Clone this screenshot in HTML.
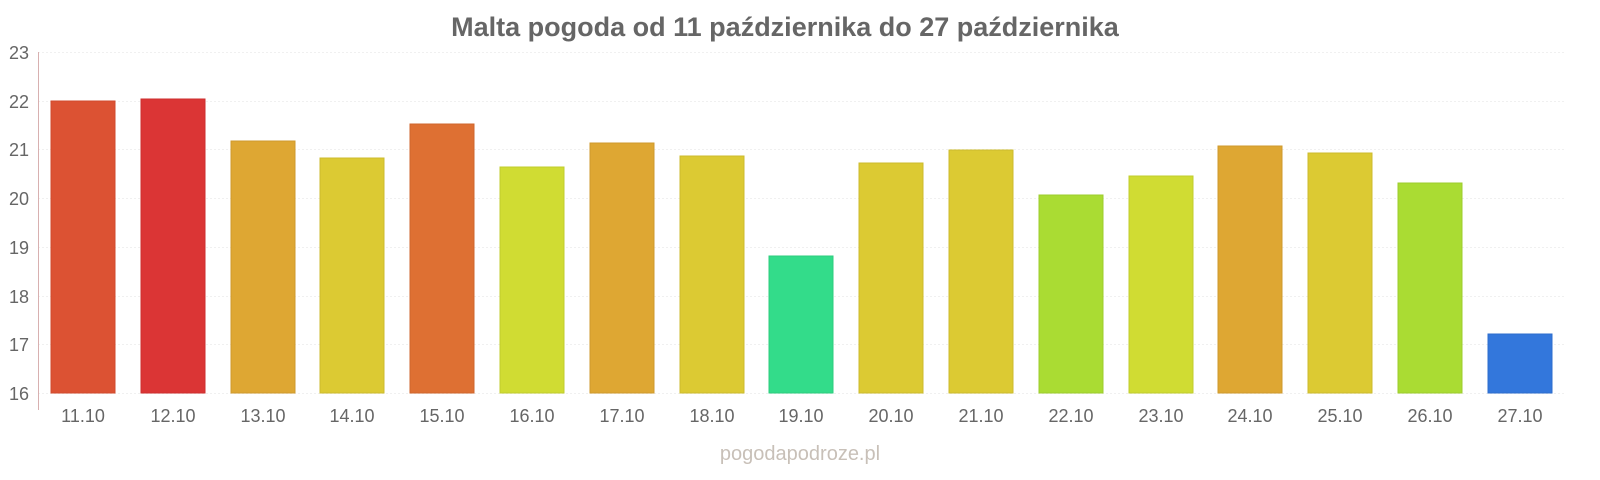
<!DOCTYPE html>
<html><head><meta charset="utf-8"><style>
html,body{margin:0;padding:0;background:#fff;overflow:hidden;width:1600px;height:480px;}
svg{display:block;font-family:"Liberation Sans",sans-serif;}
</style></head><body>
<svg width="1600" height="480" viewBox="0 0 1600 480" xmlns="http://www.w3.org/2000/svg">
<text x="785" y="36" text-anchor="middle" font-size="27" font-weight="bold" fill="#666">Malta pogoda od 11 października do 27 października</text>
<g stroke="#f0f0f0" stroke-width="1" stroke-dasharray="2,2">
<line x1="38" x2="1565" y1="52.5" y2="52.5"/><line x1="38" x2="1565" y1="101.5" y2="101.5"/><line x1="38" x2="1565" y1="149.5" y2="149.5"/><line x1="38" x2="1565" y1="198.5" y2="198.5"/><line x1="38" x2="1565" y1="247.5" y2="247.5"/><line x1="38" x2="1565" y1="296.5" y2="296.5"/><line x1="38" x2="1565" y1="344.5" y2="344.5"/><line x1="38" x2="1565" y1="393.5" y2="393.5"/>
</g>
<g font-size="18" fill="#666" text-anchor="end">
<text x="29" y="59">23</text><text x="29" y="108">22</text><text x="29" y="156">21</text><text x="29" y="205">20</text><text x="29" y="254">19</text><text x="29" y="303">18</text><text x="29" y="351">17</text><text x="29" y="400">16</text>
</g>
<line x1="38.5" x2="38.5" y1="52" y2="410" stroke="#d8b0b0"/>
<g stroke-width="1">
<rect x="51" y="101" width="64" height="292" fill="#dc5233" stroke="#d04a2c"/>
<rect x="141" y="99" width="64" height="294" fill="#db3535" stroke="#cc2e2e"/>
<rect x="231" y="141" width="64" height="252" fill="#dea733" stroke="#cf9a2c"/>
<rect x="320" y="158" width="64" height="235" fill="#dcca33" stroke="#ccbb2c"/>
<rect x="410" y="124" width="64" height="269" fill="#de7033" stroke="#cf662c"/>
<rect x="500" y="167" width="64" height="226" fill="#d0dc33" stroke="#c0cc2c"/>
<rect x="590" y="143" width="64" height="250" fill="#dea733" stroke="#cf9a2c"/>
<rect x="680" y="156" width="64" height="237" fill="#dcca33" stroke="#ccbb2c"/>
<rect x="769" y="256" width="64" height="137" fill="#33dc8a" stroke="#2ccc7e"/>
<rect x="859" y="163" width="64" height="230" fill="#dcca33" stroke="#ccbb2c"/>
<rect x="949" y="150" width="64" height="243" fill="#dcca33" stroke="#ccbb2c"/>
<rect x="1039" y="195" width="64" height="198" fill="#aadc33" stroke="#9ccc2c"/>
<rect x="1129" y="176" width="64" height="217" fill="#d0dc33" stroke="#c0cc2c"/>
<rect x="1218" y="146" width="64" height="247" fill="#dea733" stroke="#cf9a2c"/>
<rect x="1308" y="153" width="64" height="240" fill="#dcca33" stroke="#ccbb2c"/>
<rect x="1398" y="183" width="64" height="210" fill="#aadc33" stroke="#9ccc2c"/>
<rect x="1488" y="334" width="64" height="59" fill="#3377dc" stroke="#2c6ccc"/>
</g>
<g font-size="18" fill="#666" text-anchor="middle">
<text x="83" y="422">11.10</text><text x="173" y="422">12.10</text><text x="263" y="422">13.10</text><text x="352" y="422">14.10</text><text x="442" y="422">15.10</text><text x="532" y="422">16.10</text><text x="622" y="422">17.10</text><text x="712" y="422">18.10</text><text x="801" y="422">19.10</text><text x="891" y="422">20.10</text><text x="981" y="422">21.10</text><text x="1071" y="422">22.10</text><text x="1161" y="422">23.10</text><text x="1250" y="422">24.10</text><text x="1340" y="422">25.10</text><text x="1430" y="422">26.10</text><text x="1520" y="422">27.10</text>
</g>
<text x="800" y="460" text-anchor="middle" font-size="20" fill="#c8c0b8">pogodapodroze.pl</text>
</svg>
</body></html>
